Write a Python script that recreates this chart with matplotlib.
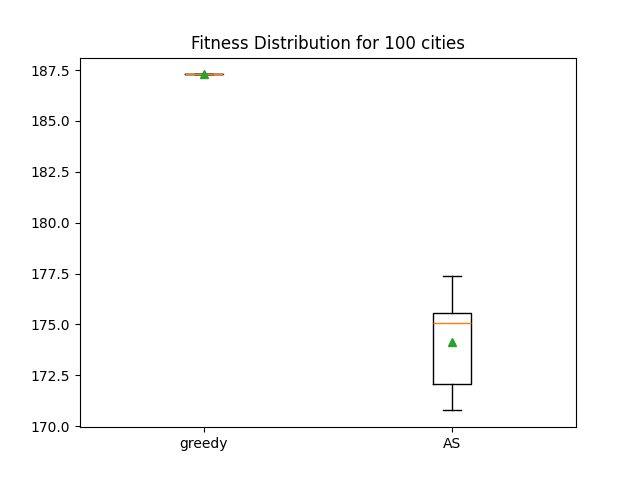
import matplotlib
matplotlib.use("Agg")
import matplotlib.pyplot as plt

# boxplot summary
labels = ["greedy", "AS"]
whislo = [187.29, 170.77]
q1 = [187.29, 172.05]
med = [187.29, 175.05]
q3 = [187.29, 175.54]
whishi = [187.29, 177.37]
means = [187.29, 174.15]

stats = []
for i in range(len(labels)):
    stats.append({"label": labels[i], "whislo": whislo[i], "q1": q1[i], "med": med[i],
                  "q3": q3[i], "whishi": whishi[i], "mean": means[i], "fliers": []})

fig, ax = plt.subplots(figsize=(6.4, 4.8), dpi=100)
ax.bxp(stats, showmeans=True)
ax.set_title("Fitness Distribution for 100 cities")
fig.savefig("out.png")
